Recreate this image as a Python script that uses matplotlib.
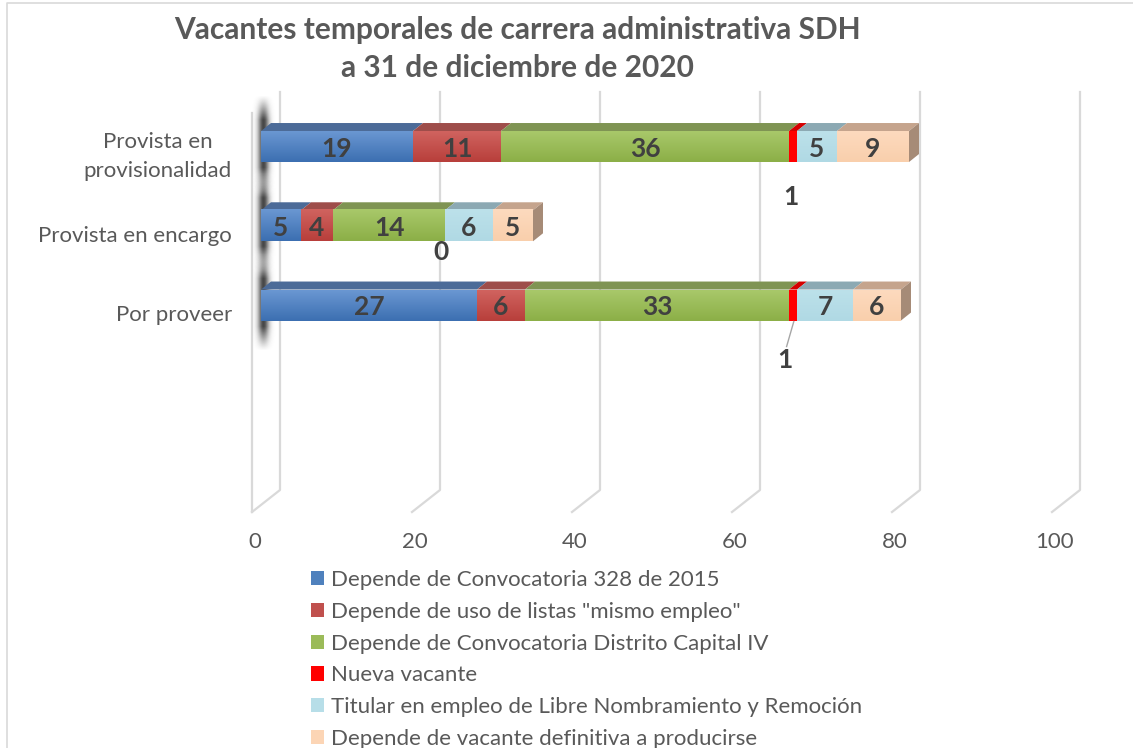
import numpy as np
import matplotlib
matplotlib.use('Agg')
import matplotlib.pyplot as plt
from matplotlib.patches import Polygon, Rectangle
from matplotlib.lines import Line2D
import matplotlib.transforms as mtrans
import matplotlib.colors as mcolors

# ---------------- data ----------------
categories = ["Por proveer", "Provista en encargo", "Provista en\nprovisionalidad"]
series_names = [
    "Depende de Convocatoria 328 de 2015",
    'Depende de uso de listas "mismo empleo"',
    "Depende de Convocatoria Distrito Capital IV",
    "Nueva vacante",
    "Titular en empleo de Libre Nombramiento y Remoción",
    "Depende de vacante definitiva a producirse",
]
convocatoria_328 = [27, 5, 19]
listas_mismo_empleo = [6, 4, 11]
distrito_capital_iv = [33, 14, 36]
nueva_vacante = [1, 0, 1]
titular_lnr = [7, 6, 5]
vacante_definitiva = [6, 5, 9]
x_ticks = [0, 20, 40, 60, 80, 100]
title = "Vacantes temporales de carrera administrativa SDH\na 31 de diciembre de 2020"

series_values = [convocatoria_328, listas_mismo_empleo, distrito_capital_iv,
                 nueva_vacante, titular_lnr, vacante_definitiva]

# ---------------- style ----------------
legend_colors = ['#4F81BD', '#C0504D', '#9BBB59', '#FF0000', '#B7DEE8', '#FCD5B5']
front_top = ['#6A97D2', '#D0635F', '#A8C86A', '#FF0000', '#BCE1EA', '#FDDABE']
front_bot = ['#3C6FB1', '#B83F3B', '#8CAF47', '#FF0000', '#B0D9E4', '#F9CFAC']
top_face = ['#4C6B98', '#9E4D4A', '#7F9453', '#D40000', '#8CA9B3', '#C5A48D']
end_face = '#A68B77'
grid_color = '#D9D9D9'
text_gray = '#595959'
label_dark = '#404040'
FONT = ['Lato', 'DejaVu Sans']
plt.rcParams['font.family'] = FONT

W, H = 1133, 748
DPI = 100
fig = plt.figure(figsize=(W / DPI, H / DPI), dpi=DPI)
fig.patch.set_facecolor('white')

# axes frame = front plane of the bars
ax_l, ax_r, ax_t, ax_b = 261, 1061, 92, 490
ax = fig.add_axes([ax_l / W, 1 - ax_b / H, (ax_r - ax_l) / W, (ax_b - ax_t) / H])
xmin, xmax = 0, 100
ymin, ymax = -2.334, 2.688
ax.set_xlim(xmin, xmax)
ax.set_ylim(ymin, ymax)
for s in ax.spines.values():
    s.set_visible(False)
ax.set_facecolor('none')

ux = (xmax - xmin) / (ax_r - ax_l)      # data units per pixel (x)
uy = (ymax - ymin) / (ax_b - ax_t)      # data units per pixel (y)
depth_dx, depth_dy = 10 * ux, 8 * uy    # 3D depth of bars
wall_dx = 19 * ux                       # back wall offset
floor_dx, floor_dy = -28 * ux, -22 * uy # floor depth (back -> front)

bar_h = 31 * uy
ypos = np.arange(len(categories))

# ---- back wall gridlines + floor ----
for v in x_ticks:
    xb = v + wall_dx
    ax.add_line(Line2D([xb, xb, xb + floor_dx], [ymax, ymin, ymin + floor_dy],
                       color=grid_color, lw=1.6, clip_on=False, zorder=0))
# left wall front edge
ax.add_line(Line2D([wall_dx + floor_dx] * 2, [ymin + floor_dy, ymax - 21 * uy],
                   color=grid_color, lw=1.6, clip_on=False, zorder=0))

# ---- soft shadows on left wall ----
for i, y in enumerate(ypos):
    ny, nx = 160, 80
    px_lo, px_hi = -14.0, 22.0
    yy = np.linspace(-1, 1, ny)[:, None]
    xx = np.linspace(px_lo, px_hi, nx)[None, :]   # pixels relative to bar start
    core = np.exp(-((xx - 2.5) / 5.5) ** 2)
    fade = np.clip((1 - np.abs(yy)) * 2.0, 0, 1) ** 1.2
    img = np.zeros((ny, nx, 4))
    img[..., :3] = 0.15
    img[..., 3] = core * fade * 0.85
    y0 = y - bar_h / 2 - 30 * uy
    y1 = y + bar_h / 2 + 36 * uy
    im = ax.imshow(img, extent=[px_lo * ux, px_hi * ux, y0, y1], aspect='auto',
                   zorder=1, interpolation='bilinear', origin='lower')
    im.set_clip_on(False)

# ---- bars ----
left = np.zeros(len(categories))
for j, vals in enumerate(series_values):
    vals = np.array(vals, dtype=float)
    bars = ax.barh(ypos, vals, left=left, height=bar_h, color=legend_colors[j],
                   zorder=4, linewidth=0)
    for i, (rect, v) in enumerate(zip(bars, vals)):
        if v <= 0:
            continue
        x0, x1 = rect.get_x(), rect.get_x() + rect.get_width()
        yb, yt = rect.get_y(), rect.get_y() + rect.get_height()
        c1 = np.array(mcolors.to_rgb(front_top[j]))
        c2 = np.array(mcolors.to_rgb(front_bot[j]))
        t = np.linspace(0, 1, 32)[:, None]
        grad = (c1 * (1 - t) + c2 * t)[:, None, :]
        ax.imshow(grad, extent=[x0, x1, yb, yt], aspect='auto', zorder=4.1,
                  interpolation='bilinear', origin='upper')
        ax.add_patch(Polygon([(x0, yt), (x1, yt), (x1 + depth_dx, yt + depth_dy),
                              (x0 + depth_dx, yt + depth_dy)], closed=True,
                             facecolor=top_face[j], edgecolor='none', zorder=3.5))
    left = left + vals

# end faces
for i, y in enumerate(ypos):
    x1 = left[i]
    yb, yt = y - bar_h / 2, y + bar_h / 2
    ax.add_patch(Polygon([(x1, yb), (x1, yt), (x1 + depth_dx, yt + depth_dy),
                          (x1 + depth_dx, yb + depth_dy)], closed=True,
                         facecolor=end_face, edgecolor='none', zorder=3.6))

# ---- data labels ----
small_label_offsets = {0: (-1.0, -39), 1: (-0.5, -11), 2: (-0.3, -35)}  # (dx units, dy px) from bar bottom
left = np.zeros(len(categories))
for j, vals in enumerate(series_values):
    for i, v in enumerate(vals):
        cx = left[i] + v / 2
        if v > 1:
            ax.text(cx, ypos[i] - 2 * uy, str(v), ha='center', va='center',
                    fontsize=19, fontweight='bold', color=label_dark, zorder=6)
        else:
            dxo, dyo = small_label_offsets[i]
            ly = ypos[i] - bar_h / 2 + dyo * uy
            ax.text(cx + dxo, ly, str(v), ha='center', va='center',
                    fontsize=19, fontweight='bold', color=label_dark, zorder=6)
            if i == 0:
                ax.add_line(Line2D([cx + 0.1, cx - 0.8],
                                   [ypos[i] - bar_h / 2 - 1 * uy, ly + 13 * uy],
                                   color='#A6A6A6', lw=1.0, zorder=5))
    left = left + np.array(vals)

# ---- ticks ----
ax.set_xticks(x_ticks)
ax.set_xticklabels([str(v) for v in x_ticks], fontsize=16, color=text_gray)
ax.tick_params(axis='x', length=0, pad=30)
for lbl in ax.get_xticklabels():
    lbl.set_transform(lbl.get_transform() +
                      mtrans.ScaledTranslation(-6 / DPI, 0, fig.dpi_scale_trans))
ax.set_yticks(ypos)
ax.set_yticklabels(categories, fontsize=16, color=text_gray, linespacing=1.6)
ax.tick_params(axis='y', length=0, pad=21)
for lbl in ax.get_yticklabels():
    multi = '\n' in lbl.get_text()
    dy = -3 if multi else -8
    if multi:
        lbl.set_multialignment('center')
    lbl.set_transform(lbl.get_transform() +
                      mtrans.ScaledTranslation(0, dy / DPI, fig.dpi_scale_trans))

ax.set_xlim(xmin, xmax)
ax.set_ylim(ymin, ymax)

# ---- title ----
fig.text(517 / W, 1 - 49 / H, title, ha='center', va='center', fontsize=21.5,
         fontweight='bold', color=text_gray, linespacing=1.45)

# ---- legend ----
handles = [Rectangle((0, 0), 1, 1, facecolor=c, edgecolor='none') for c in legend_colors]
fig.legend(handles, series_names, loc='upper left',
           bbox_to_anchor=(311 / W, 1 - 570 / H), frameon=False, fontsize=16,
           handlelength=0.6, handleheight=0.6, handletextpad=0.3,
           labelspacing=0.53, borderpad=0, borderaxespad=0, labelcolor=text_gray)

# ---- chart border ----
fig.add_artist(Line2D([7 / W, 7 / W, 1.0], [0, 1 - 3 / H, 1 - 3 / H],
                      transform=fig.transFigure, color='#D9D9D9', lw=1.2))

fig.savefig('out.png', dpi=DPI, facecolor='white')
